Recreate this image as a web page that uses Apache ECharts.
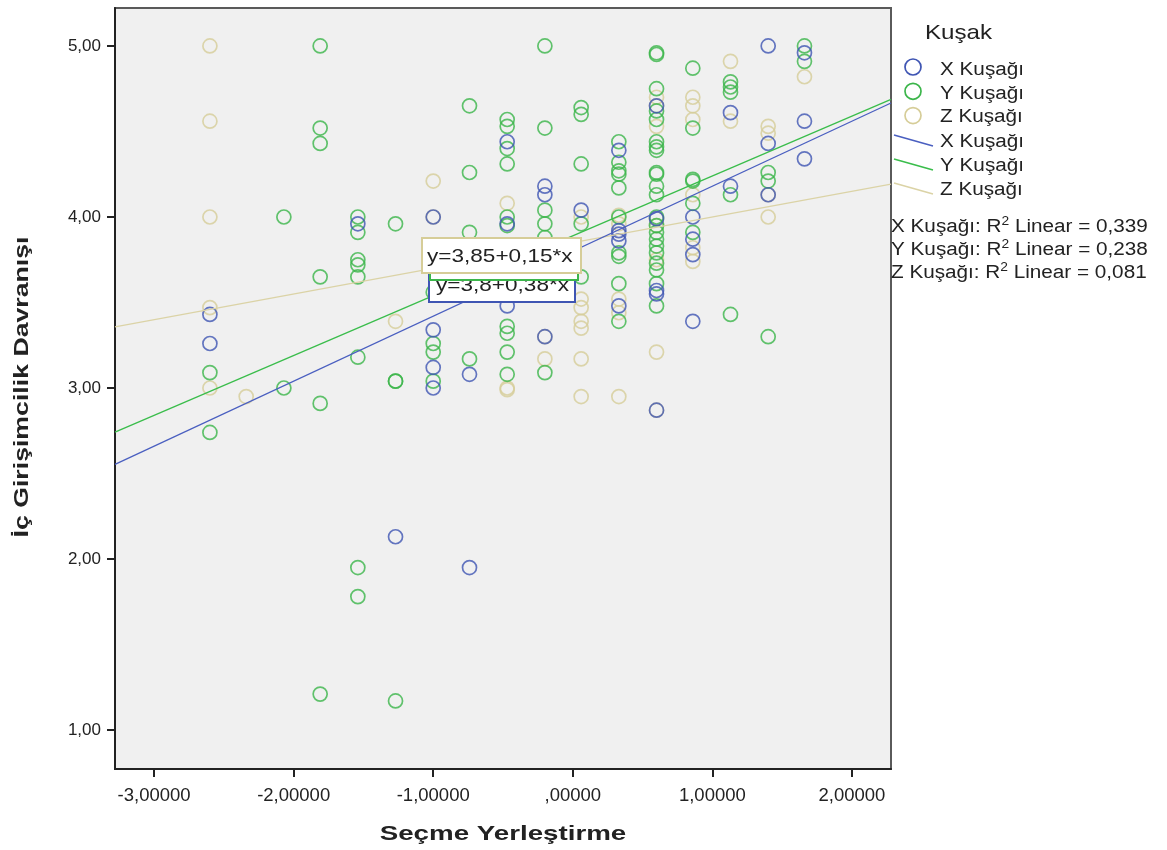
<!DOCTYPE html>
<html><head><meta charset="utf-8">
<script src="https://cdn.jsdelivr.net/npm/echarts@6/dist/echarts.min.js"></script>
<style>html,body{margin:0;padding:0;background:#fff}#c{width:1167px;height:850px}</style>
</head><body><div id="c"></div>
<script>
// ---- data ----
const seriesNames = ['X Kuşağı', 'Y Kuşağı', 'Z Kuşağı'];
const legendTitle = 'Kuşak';
const xTitle = 'Seçme Yerleştirme';
const yTitle = 'İç Girişimcilik Davranışı';
const xTicks = [-3, -2, -1, 0, 1, 2];
const yTicks = [1, 2, 3, 4, 5];

const genX_x = [-2.60,-2.60,-1.54,-1.27,-1.00,-1.00,-1.00,-1.00,-0.74,-0.74,-0.47,-0.47,-0.47,-0.20,-0.20,-0.20,0.06,0.33,0.33,0.33,0.33,0.33,0.60,0.60,0.60,0.60,0.60,0.86,0.86,0.86,0.86,1.13,1.13,1.40,1.40,1.40,1.66,1.66,1.66];
const genX_y = [3.43,3.26,3.96,2.13,4.00,3.34,3.12,3.00,3.08,1.95,4.44,3.96,3.48,4.18,4.13,3.30,4.04,4.39,3.92,3.90,3.86,3.48,4.65,3.99,3.57,3.55,2.87,4.00,3.87,3.78,3.39,4.61,4.18,5.00,4.43,4.13,4.96,4.56,4.34];

const genY_x = [-2.60,-2.60,-2.07,-2.07,-1.81,-1.81,-1.81,-1.81,-1.81,-1.81,-1.54,-1.54,-1.54,-1.54,-1.54,-1.54,-1.54,-1.54,-1.27,-1.27,-1.27,-1.27,-1.00,-1.00,-1.00,-1.00,-0.74,-0.74,-0.74,-0.74,-0.47,-0.47,-0.47,-0.47,-0.47,-0.47,-0.47,-0.47,-0.47,-0.47,-0.20,-0.20,-0.20,-0.20,-0.20,-0.20,0.06,0.06,0.06,0.06,0.06,0.33,0.33,0.33,0.33,0.33,0.33,0.33,0.33,0.33,0.33,0.60,0.60,0.60,0.60,0.60,0.60,0.60,0.60,0.60,0.60,0.60,0.60,0.60,0.60,0.60,0.60,0.60,0.60,0.60,0.60,0.60,0.60,0.86,0.86,0.86,0.86,0.86,0.86,1.13,1.13,1.13,1.13,1.13,1.40,1.40,1.40,1.66,1.66];
const genY_y = [3.09,2.74,4.00,3.00,5.00,4.52,4.43,3.65,2.91,1.21,4.00,3.91,3.75,3.72,3.65,3.18,1.95,1.78,3.96,3.04,3.04,1.17,3.56,3.26,3.21,3.04,4.65,4.26,3.91,3.17,4.57,4.53,4.40,4.31,4.00,3.95,3.36,3.32,3.21,3.08,5.00,4.52,4.04,3.96,3.88,3.09,4.64,4.60,4.31,3.96,3.65,4.44,4.32,4.27,4.25,4.17,4.00,3.79,3.77,3.61,3.39,4.96,4.95,4.75,4.62,4.57,4.44,4.41,4.39,4.26,4.25,4.18,4.13,4.00,3.95,3.91,3.87,3.83,3.79,3.73,3.69,3.61,3.48,4.87,4.52,4.22,4.21,4.08,3.91,4.79,4.76,4.73,4.13,3.43,4.26,4.21,3.30,5.00,4.91];

const genZ_x = [-2.60,-2.60,-2.60,-2.60,-2.60,-2.34,-1.27,-1.00,-1.00,-0.47,-0.47,-0.47,-0.20,-0.20,0.06,0.06,0.06,0.06,0.06,0.06,0.06,0.33,0.33,0.33,0.33,0.33,0.60,0.60,0.60,0.60,0.60,0.60,0.60,0.60,0.86,0.86,0.86,0.86,0.86,0.86,1.13,1.13,1.40,1.40,1.40,1.40,1.66];
const genZ_y = [5.00,4.56,4.00,3.47,3.00,2.95,3.39,4.21,4.00,4.08,3.00,2.99,3.30,3.17,4.00,3.52,3.47,3.39,3.35,3.17,2.95,4.01,3.96,3.52,3.44,2.95,4.70,4.65,4.53,3.99,3.95,3.75,3.21,2.87,4.70,4.65,4.57,4.13,3.82,3.74,4.91,4.56,4.53,4.49,4.13,4.00,4.82];

const intercepts = [3.80, 3.89, 3.85];
const slopes = [0.38, 0.35, 0.15];
const r2Values = ['0,339', '0,238', '0,081'];
const eqLabels = ['y=3,8+0,38*x', 'y=3,89+0,35*x', 'y=3,85+0,15*x'];

// ---- styling ----
const markerColors = ['#3f55b3', '#3bb54a', '#d6cd98'];
const lineColors = ['#4a5fc0', '#3abd4b', '#dbd3a6'];
const xMin = -3.28, xMax = 2.28, yMin = 0.772, yMax = 5.222;
const FONT = '"Liberation Sans",Arial,sans-serif';
const TXT = '#222';

function pairs(xs, ys) { return xs.map((x, i) => [x, ys[i]]); }
const pts = [pairs(genX_x, genX_y), pairs(genY_x, genY_y), pairs(genZ_x, genZ_y)];

const fmtX = v => { let s = Math.abs(v).toFixed(5).replace('.', ','); if (s.startsWith('0,')) s = s.slice(1); return (v < 0 ? '-' : '') + s; };
const fmtY = v => v.toFixed(2).replace('.', ',');

const series = [];
[2, 1, 0].forEach(i => {
  series.push({
    type: 'scatter', name: seriesNames[i], data: pts[i], symbol: 'circle', symbolSize: 14,
    itemStyle: { color: 'rgba(0,0,0,0)', borderColor: markerColors[i], borderWidth: 1.7 },
    z: 3, silent: true
  });
});
[2, 1, 0].forEach(i => {
  series.push({
    type: 'line', name: seriesNames[i] + ' fit', symbol: 'none', silent: true, z: 4,
    data: [[xMin, intercepts[i] + slopes[i] * xMin], [xMax, intercepts[i] + slopes[i] * xMax]],
    lineStyle: { color: lineColors[i], width: 1.3 }
  });
});

// ---- legend, titles & annotations (graphic) ----
const SX = 1.15;
const graphic = [];
function txt(x, y, text, font, opts) {
  return Object.assign({ type: 'text', x: x, y: y, scaleX: SX, style: { x: 0, y: 0, text: text, font: font, fill: TXT, align: 'left', verticalAlign: 'middle' } }, opts || {});
}
graphic.push(txt(925, 33, legendTitle, '21px ' + FONT));
for (let i = 0; i < 3; i++) {
  graphic.push({ type: 'circle', shape: { cx: 913, cy: 67 + i * 24.3, r: 8 }, style: { fill: 'none', stroke: markerColors[i], lineWidth: 1.7 } });
  graphic.push(txt(940, 70 + i * 23.7, seriesNames[i], '18px ' + FONT));
}
for (let i = 0; i < 3; i++) {
  const cy = 142 + i * 24;
  graphic.push({ type: 'line', shape: { x1: 894, y1: cy - 7, x2: 933, y2: cy + 4 }, style: { stroke: lineColors[i], lineWidth: 1.6 } });
  graphic.push(txt(940, cy, seriesNames[i], '18px ' + FONT));
}
for (let i = 0; i < 3; i++) {
  graphic.push({
    type: 'text', x: 891, y: 226 + i * 23, scaleX: SX,
    style: {
      x: 0, y: 0, verticalAlign: 'middle',
      text: '{a|' + seriesNames[i] + ': R}{s|2}{a| Linear = ' + r2Values[i] + '}',
      rich: { a: { font: '18px ' + FONT, fill: TXT, verticalAlign: 'bottom' }, s: { font: '12px ' + FONT, fill: TXT, padding: [0, 0, 9, 0], verticalAlign: 'bottom' } }
    }
  });
}
// axis titles
graphic.push({ type: 'text', x: 503, y: 834, scaleX: 1.32, style: { x: 0, y: 0, text: xTitle, font: 'bold 21px ' + FONT, fill: TXT, align: 'center', verticalAlign: 'middle' } });
graphic.push({ type: 'text', x: 22, y: 387, rotation: Math.PI / 2, scaleX: 1.27, style: { x: 0, y: 0, text: yTitle, font: 'bold 21px ' + FONT, fill: TXT, align: 'center', verticalAlign: 'middle' } });

// equation boxes: blue (bottom), green, Z (top)
const boxes = [
  { i: 0, x: 429, y: 268, w: 146, h: 34, tx: 436, ty: 286 },
  { i: 1, x: 430, y: 246, w: 148, h: 34, tx: 435, ty: 265 },
  { i: 2, x: 422, y: 238, w: 159, h: 35, tx: 427, ty: 257 }
];
boxes.forEach((b, k) => {
  graphic.push({ type: 'rect', z: 100 + k * 2, shape: { x: b.x, y: b.y, width: b.w, height: b.h }, style: { fill: '#fff', stroke: markerColors[b.i], lineWidth: 2 } });
  graphic.push({ type: 'text', z: 101 + k * 2, x: b.tx, y: b.ty, scaleX: 1.22, style: { x: 0, y: 0, text: eqLabels[b.i], font: '18.5px ' + FONT, fill: TXT, verticalAlign: 'middle' } });
});

const chart = echarts.init(document.getElementById('c'), null, { renderer: 'canvas' });
chart.setOption({
  animation: false,
  backgroundColor: '#ffffff',
  grid: { left: 115, top: 8, right: 276, bottom: 81, show: true, backgroundColor: '#f0f0f0', borderColor: '#5a5a5a', borderWidth: 2 },
  xAxis: {
    type: 'value', min: xMin, max: xMax,
    axisLine: { show: true, onZero: false, lineStyle: { color: '#222', width: 2 } },
    axisTick: { show: true, length: 8, lineStyle: { color: '#222', width: 2 }, customValues: xTicks },
    axisLabel: { color: TXT, fontFamily: FONT, fontSize: 18.5, margin: 17, formatter: fmtX, customValues: xTicks },
    splitLine: { show: false }
  },
  yAxis: {
    type: 'value', min: yMin, max: yMax,
    axisLine: { show: true, onZero: false, lineStyle: { color: '#222', width: 2 } },
    axisTick: { show: true, length: 8, lineStyle: { color: '#222', width: 2 }, customValues: yTicks },
    axisLabel: { color: TXT, fontFamily: FONT, fontSize: 17, margin: 14, formatter: fmtY, customValues: yTicks },
    splitLine: { show: false }
  },
  series: series,
  graphic: graphic
});
</script></body></html>
